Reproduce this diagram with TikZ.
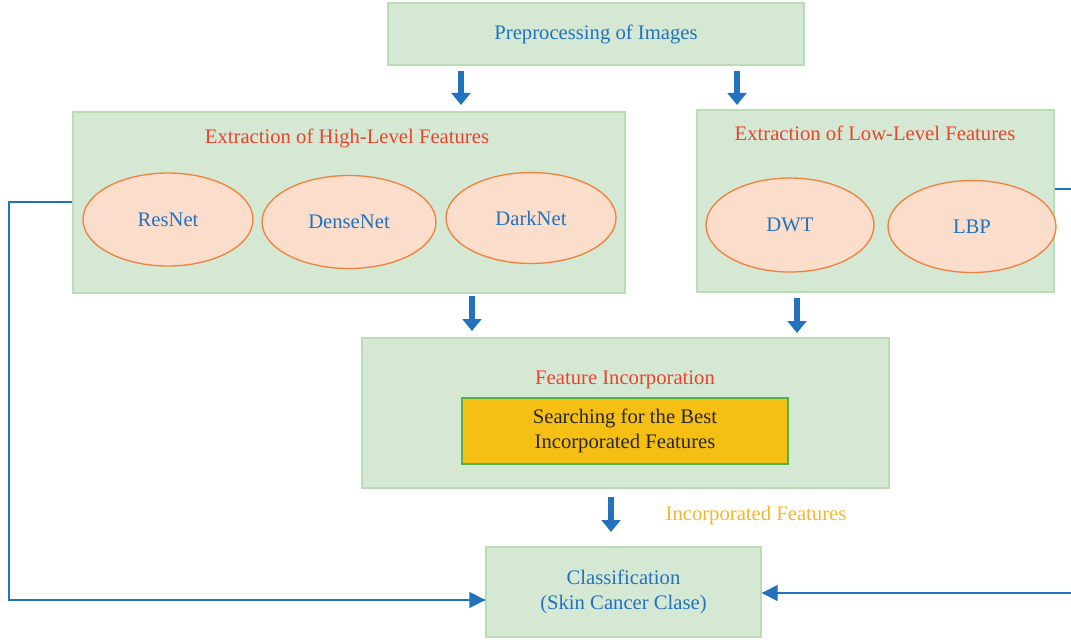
\documentclass[tikz,border=0pt]{standalone}
\usepackage{fontspec}
\setmainfont{Liberation Serif}
\usetikzlibrary{arrows.meta,shapes.geometric}
\definecolor{boxfill}{HTML}{D5E8D4}
\definecolor{boxline}{HTML}{B9DEB4}
\definecolor{ellfill}{HTML}{FBDDCB}
\definecolor{ellline}{HTML}{F0823E}
\definecolor{tblue}{HTML}{2272BE}
\definecolor{tred}{HTML}{E8452C}
\definecolor{torange}{HTML}{F5B530}
\definecolor{yfill}{HTML}{F5BF14}
\definecolor{yline}{HTML}{4DB34D}
\begin{document}
\begin{tikzpicture}[x=0.75pt,y=-0.75pt,
  every node/.style={font=\fontsize{15.5}{19}\selectfont},
  gbox/.style={draw=boxline,fill=boxfill,line width=1pt,inner sep=0pt},
  ell/.style={ellipse,draw=ellline,fill=ellfill,line width=1pt,inner sep=0pt,text=tblue},
  bigarrow/.style={draw=tblue,line width=4pt,-{Triangle[length=9pt,width=14pt]}},
  conn/.style={draw=tblue,line width=1pt},
  connarrow/.style={conn,-{Triangle[length=12pt,width=12pt]}}]
\useasboundingbox (0,0) rectangle (1071,642);
% boxes
\node[gbox,minimum width=416*0.75pt,minimum height=62*0.75pt,text=tblue] (pre) at (596,34) {Preprocessing of Images};
\node[gbox,minimum width=552*0.75pt,minimum height=181*0.75pt] (high) at (349,202.5) {};
\node[text=tred] (hight) at (347,138) {Extraction of High-Level Features};
\node[gbox,minimum width=357*0.75pt,minimum height=182*0.75pt] (low) at (875.5,201) {};
\node[text=tred] (lowt) at (875,133) {Extraction of Low-Level Features};
\node[gbox,minimum width=527*0.75pt,minimum height=150*0.75pt] (inc) at (625.5,413) {};
\node[text=tred] (inct) at (625,380) {Feature Incorporation};
\node[draw=yline,fill=yfill,line width=1pt,minimum width=326*0.75pt,minimum height=66*0.75pt,align=center,text={black!85},inner sep=0pt] (search) at (625,431) {Searching for the Best\\Incorporated Features};
\node[gbox,minimum width=275*0.75pt,minimum height=90*0.75pt,align=center,text=tblue] (cls) at (623.5,592) {Classification\\(Skin Cancer Clase)};
% ellipses
\node[ell,minimum width=170*0.75pt,minimum height=93*0.75pt] (resnet) at (168,219.5) {ResNet};
\node[ell,minimum width=174*0.75pt,minimum height=93*0.75pt] (densenet) at (349,222) {DenseNet};
\node[ell,minimum width=170*0.75pt,minimum height=91*0.75pt] (darknet) at (531,218) {DarkNet};
\node[ell,minimum width=168*0.75pt,minimum height=94*0.75pt] (dwt) at (790,225) {DWT};
\node[ell,minimum width=168*0.75pt,minimum height=92*0.75pt] (lbp) at (972,226.5) {LBP};
\node[text=torange] (inclabel) at (756,516) {Incorporated Features};
% big arrows
\draw[bigarrow] (461,71) -- (461,105);
\draw[bigarrow] (737,71) -- (737,105);
\draw[bigarrow] (472,296) -- (472,331);
\draw[bigarrow] (797,298) -- (797,333);
\draw[bigarrow] (611,497) -- (611,532);
% side connectors
\coordinate (lt) at (9,202);
\coordinate (lb) at (9,600);
\coordinate (rt) at (1071,189);
\coordinate (rb) at (1071,593);
\draw[conn] (high.west |- 0,202) -- (lt) -- (lb) -- (lb -| cls.west);
\draw[connarrow] (lb) -- (lb -| cls.west);
\draw[conn] (low.east |- 0,189) -- (rt);
\draw[connarrow] (rb) -- (rb -| cls.east);
\end{tikzpicture}
\end{document}
